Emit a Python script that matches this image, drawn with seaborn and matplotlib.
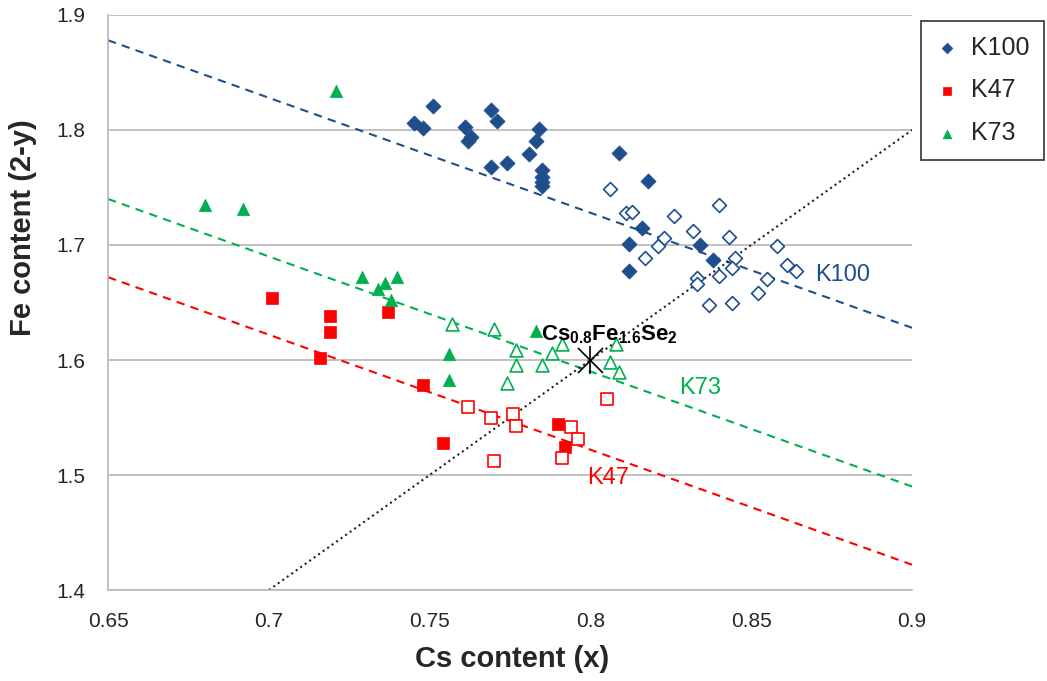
import numpy as np
import pandas as pd
import matplotlib.pyplot as plt
import seaborn as sns

# K100 - filled / open diamonds
k100_x = [0.751, 0.745, 0.748, 0.761, 0.763, 0.762, 0.769, 0.771, 0.769, 0.774,
          0.784, 0.783, 0.781, 0.785, 0.785, 0.785, 0.785,
          0.809, 0.818, 0.816, 0.812, 0.812, 0.834, 0.838]
k100_y = [1.821, 1.806, 1.802, 1.803, 1.794, 1.790, 1.817, 1.808, 1.768, 1.771,
          1.801, 1.790, 1.779, 1.765, 1.759, 1.755, 1.751,
          1.780, 1.756, 1.715, 1.701, 1.677, 1.700, 1.687]
k100_open_x = [0.806, 0.811, 0.813, 0.826, 0.840, 0.823, 0.821, 0.817, 0.832, 0.843,
               0.845, 0.844, 0.840, 0.833, 0.833, 0.837, 0.844, 0.852, 0.855, 0.858,
               0.861, 0.864]
k100_open_y = [1.749, 1.728, 1.729, 1.725, 1.735, 1.706, 1.699, 1.689, 1.712, 1.707,
               1.689, 1.680, 1.673, 1.671, 1.666, 1.648, 1.650, 1.658, 1.670, 1.699,
               1.683, 1.677]

# K47 - filled / open squares
k47_x = [0.701, 0.719, 0.737, 0.719, 0.716, 0.748, 0.754, 0.790, 0.792]
k47_y = [1.654, 1.638, 1.642, 1.624, 1.602, 1.578, 1.528, 1.544, 1.524]
k47_open_x = [0.762, 0.769, 0.776, 0.777, 0.770, 0.794, 0.796, 0.791, 0.805]
k47_open_y = [1.559, 1.550, 1.553, 1.543, 1.512, 1.542, 1.531, 1.515, 1.566]

# K73 - filled / open triangles
k73_x = [0.721, 0.680, 0.692, 0.729, 0.734, 0.736, 0.740, 0.738, 0.756, 0.756, 0.783]
k73_y = [1.834, 1.735, 1.731, 1.672, 1.662, 1.667, 1.672, 1.652, 1.605, 1.583, 1.625]
k73_open_x = [0.757, 0.770, 0.777, 0.777, 0.774, 0.785, 0.788, 0.791, 0.808, 0.806, 0.809]
k73_open_y = [1.631, 1.627, 1.609, 1.596, 1.580, 1.596, 1.606, 1.614, 1.614, 1.598, 1.590]

# trend lines
fit_x = [0.65, 0.9]
k100_fit = [1.878, 1.628]
k73_fit = [1.740, 1.490]
k47_fit = [1.672, 1.422]
stoich_x = [0.7, 0.9]
stoich_y = [1.4, 1.8]
ref_x, ref_y = 0.8, 1.6

c_blue = '#1F4E8C'
c_red = '#FF0000'
c_green = '#00B050'

sns.set_style('white')
plt.rcParams['font.family'] = ['Liberation Sans', 'DejaVu Sans']
plt.rcParams['mathtext.fontset'] = 'custom'
plt.rcParams['mathtext.rm'] = 'Liberation Sans'
plt.rcParams['mathtext.bf'] = 'Liberation Sans:bold'

fig = plt.figure(figsize=(10.47, 6.81), dpi=100)
ax = fig.add_axes([0.1032, 0.1336, 0.7679, 0.8444])

ax.plot(fit_x, k100_fit, '--', color=c_blue, lw=1.5, dashes=(4, 3))
ax.plot(fit_x, k73_fit, '--', color=c_green, lw=1.5, dashes=(4, 3))
ax.plot(fit_x, k47_fit, '--', color=c_red, lw=1.5, dashes=(4, 3))
ax.plot(stoich_x, stoich_y, ':', color='#222222', lw=1.5)

sns.scatterplot(x=k100_x, y=k100_y, marker='D', s=60, color=c_blue, edgecolor=c_blue,
                linewidth=0.5, ax=ax, label='K100', zorder=3)
sns.scatterplot(x=k47_x, y=k47_y, marker='s', s=70, color=c_red, edgecolor=c_red,
                linewidth=0.5, ax=ax, label='K47', zorder=3)
sns.scatterplot(x=k73_x, y=k73_y, marker='^', s=80, color=c_green, edgecolor=c_green,
                linewidth=0.5, ax=ax, label='K73', zorder=3)

sns.scatterplot(x=k100_open_x, y=k100_open_y, marker='D', s=50, facecolor='white',
                edgecolor=c_blue, linewidth=1.2, ax=ax, zorder=3)
sns.scatterplot(x=k47_open_x, y=k47_open_y, marker='s', s=75, facecolor='white',
                edgecolor=c_red, linewidth=1.2, ax=ax, zorder=3)
sns.scatterplot(x=k73_open_x, y=k73_open_y, marker='^', s=85, facecolor='white',
                edgecolor=c_green, linewidth=1.2, ax=ax, zorder=3)

ax.plot([ref_x], [ref_y], marker='x', ms=18, mew=1.2, color='black', zorder=4)
ax.plot([ref_x], [ref_y], marker='|', ms=20, mew=1.2, color='black', zorder=4)

ax.text(0.7845, 1.612, r'$\mathbf{Cs_{0.8}Fe_{1.6}Se_2}$', fontsize=16, color='black',
        ha='left', va='bottom', zorder=5)
ax.text(0.8783, 1.674, 'K100', fontsize=17, color=c_blue, ha='center', va='center')
ax.text(0.8341, 1.5757, 'K73', fontsize=17, color=c_green, ha='center', va='center')
ax.text(0.8055, 1.4974, 'K47', fontsize=17, color=c_red, ha='center', va='center')

ax.set_xlim(0.65, 0.9)
ax.set_ylim(1.4, 1.9)
ax.set_xticks([0.65, 0.7, 0.75, 0.8, 0.85, 0.9])
ax.set_xticklabels(['0.65', '0.7', '0.75', '0.8', '0.85', '0.9'])
ax.set_yticks([1.4, 1.5, 1.6, 1.7, 1.8, 1.9])
ax.set_yticklabels(['1.4', '1.5', '1.6', '1.7', '1.8', '1.9'])
ax.tick_params(axis='both', length=0, labelsize=15, pad=16)
ax.yaxis.grid(True, color='#B8B8B8', lw=1.2)
ax.xaxis.grid(False)
for side in ['top', 'right']:
    ax.spines[side].set_visible(False)
for side in ['left', 'bottom']:
    ax.spines[side].set_color('#B8B8B8')
    ax.spines[side].set_linewidth(1.2)

ax.set_xlabel('Cs content (x)', fontsize=21, fontweight='bold')
ax.set_ylabel('Fe content (2-y)', fontsize=21, fontweight='bold')
ax.xaxis.set_label_coords(0.502, -0.095)
ax.yaxis.set_label_coords(-0.088, 0.63)

leg = ax.legend(loc='upper left', bbox_to_anchor=(1.011, 0.99), fontsize=18,
                frameon=True, fancybox=False, edgecolor='black', borderpad=0.6,
                labelspacing=0.75, handlelength=0.9, handletextpad=0.5,
                borderaxespad=0.0, markerscale=0.7)
leg.get_frame().set_linewidth(1.2)

fig.savefig('out.png', dpi=100)
